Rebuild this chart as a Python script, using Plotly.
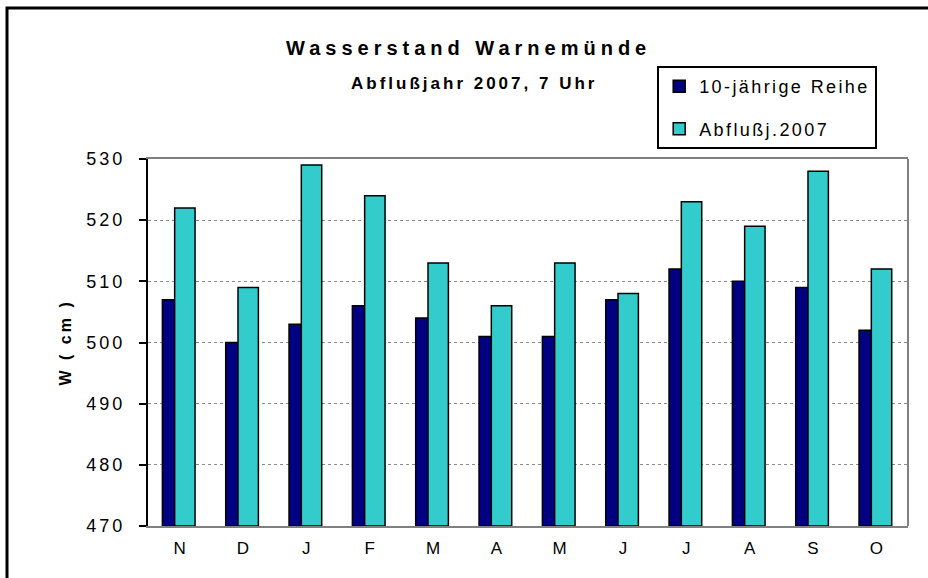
import plotly.graph_objects as go

months = ["N", "D", "J", "F", "M", "A", "M", "J", "J", "A", "S", "O"]
reihe_10 = [507, 500, 503, 506, 504, 501, 501, 507, 512, 510, 509, 502]
abfluss_2007 = [522, 509, 529, 524, 513, 506, 513, 508, 523, 519, 528, 512]
y_ticks = [470, 480, 490, 500, 510, 520, 530]

FONT = "Liberation Sans, Arial, sans-serif"

def sp(text, ls):
    return f'<span style="letter-spacing:{ls}px">{text}</span>'

x_idx = list(range(len(months)))

fig = go.Figure()
fig.add_trace(go.Bar(
    x=x_idx, y=[v - 470 for v in reihe_10], base=470,
    name=sp("10-jährige Reihe", 2.4), legendgroup="a",
    marker=dict(color="#000080", line=dict(color="black", width=1.5)),
    width=0.322, offset=-0.273,
))
fig.add_trace(go.Bar(
    x=x_idx, y=[v - 470 for v in abfluss_2007], base=470,
    name=sp("Abflußj.2007", 2.4), legendgroup="b",
    marker=dict(color="#33CCCC", line=dict(color="black", width=1.5)),
    width=0.322, offset=-0.079,
))

fig.update_layout(
    width=928, height=578,
    margin=dict(l=148, r=20, t=159, b=52),
    paper_bgcolor="white", plot_bgcolor="white",
    barmode="overlay",
    font=dict(family=FONT, color="black", size=14),
    showlegend=True,
    legend=dict(
        x=0.67, y=1.253, xanchor="left", yanchor="top",
        bordercolor="black", borderwidth=2, bgcolor="white",
        font=dict(family=FONT, size=18, color="black"),
        tracegroupgap=16, traceorder="grouped",
    ),
    xaxis=dict(
        tickmode="array", tickvals=x_idx, ticktext=months,
        range=[-0.5, len(months) - 0.5],
        showline=True, linecolor="#808080", linewidth=2, mirror=True,
        ticks="", showgrid=False, zeroline=False,
        ticklabelstandoff=6,
        tickfont=dict(family=FONT, size=17, color="black"),
    ),
    yaxis=dict(
        range=[470, 530],
        tickmode="array", tickvals=y_ticks, ticktext=[sp(str(t), 3) for t in y_ticks],
        showline=True, linecolor="black", linewidth=2,
        ticks="outside", ticklen=7, tickwidth=1.5, tickcolor="black",
        ticklabelstandoff=10,
        showgrid=True, gridcolor="#8c8c8c", gridwidth=1, griddash="dot",
        zeroline=False,
        tickfont=dict(family=FONT, size=18, color="black"),
    ),
    annotations=[
        dict(text="<b>" + sp("Wasserstand Warnemünde", 5) + "</b>",
             x=(468 - 148) / 760, y=(526 - 48) / 367, xref="paper", yref="paper",
             xanchor="center", yanchor="middle", showarrow=False,
             font=dict(family=FONT, size=20, color="black")),
        dict(text="<b>" + sp("Abflußjahr 2007, 7 Uhr", 3) + "</b>",
             x=(474 - 148) / 760, y=(526 - 83) / 367, xref="paper", yref="paper",
             xanchor="center", yanchor="middle", showarrow=False,
             font=dict(family=FONT, size=17, color="black")),
        dict(text="<b>" + sp("W ( cm )", 3) + "</b>",
             x=(65 - 148) / 760, y=0.5, xref="paper", yref="paper",
             xanchor="center", yanchor="middle", showarrow=False, textangle=-90,
             font=dict(family=FONT, size=16, color="black")),
    ],
    shapes=[
        dict(type="line", xref="paper", yref="paper", x0=1, x1=1, y0=0, y1=1,
             line=dict(color="#808080", width=2), layer="above"),
        dict(type="rect", xref="paper", yref="paper",
             x0=(7 - 148) / 760, x1=(940 - 148) / 760,
             y0=(526 - 590) / 367, y1=(526 - 8) / 367,
             line=dict(color="black", width=3), fillcolor="rgba(0,0,0,0)", layer="above"),
    ],
)

fig.write_html("out.html", config={"displayModeBar": False},
               post_script="document.body.style.margin='0';")
